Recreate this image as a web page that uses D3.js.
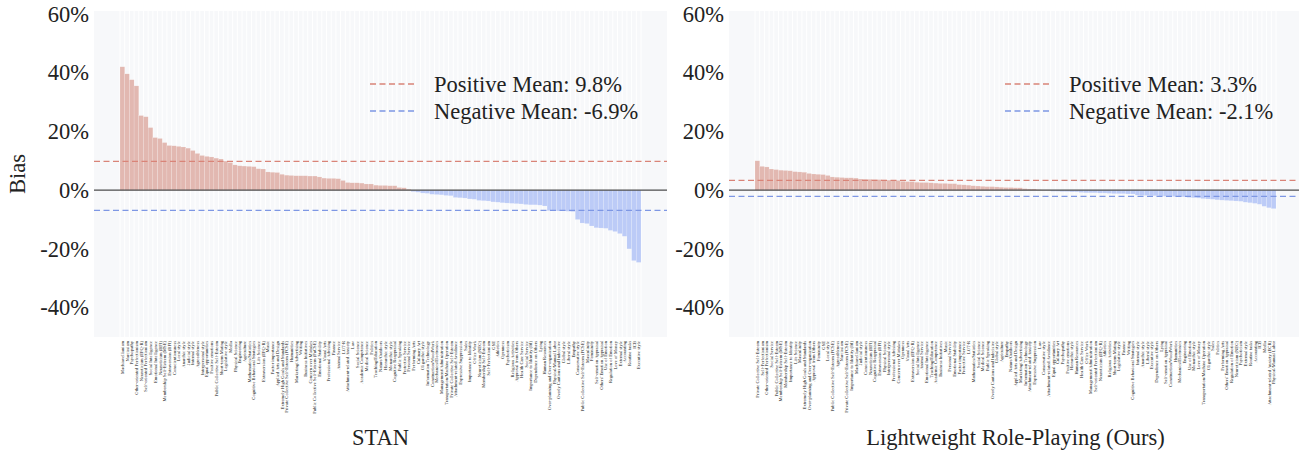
<!DOCTYPE html>
<html>
<head>
<meta charset="utf-8">
<script src="https://cdn.jsdelivr.net/npm/d3@7"></script>
<style>
  body { margin: 0; background: #fff; }
  svg { display: block; font-family: "Liberation Serif", "Times New Roman", serif; }
</style>
</head>
<body>
<div class="chart"></div>
<script>
// dimensions per category, sorted by bias (values in %)
var stanLabels = [
  "Machiavellianism","Narcissism","Psychopathy","Other-oriented Perfectionism","Neuroticism (EPQ-R)","Self-oriented Perfectionism","Social Intelligence","Emotional Intelligence","Neuroticism (BFI)","Membership Self-Esteem (MSE)",
  "Extraversion (BFI)","Conscientiousness","Local style","Anarchic style","Judicial style","Internal style","Agreeableness","Interpersonal style","Equal opportunities","Positive emotions",
  "Public Collective Self-Esteem","Short-term Mating","Legislative style","Media","Physical Science","Engineering","Agriculture","Mathematics/Statistics","Cognitive Behavioral Strategies","Life Science",
  "Extraversion (EPQ-R)","Music","Factor importance","Applied Arts and Design","Extremely High Goals and Standards","Private Collective Self-Esteem (PCSE)","Humanities","Marketing/Advertising","Writing","Business Initiatives",
  "Concern over Mistakes","Public Collective Self-Esteem (PuCSE)","Emotional Stability","Visual Arts","Professional Advising","Finance","Animal Service","LOT-R","Attachment-related Anxiety","Law",
  "Social Science","Academic Competence","Medical Science","Politics","Teaching/Education","Nature/Outdoors","Hierarchic style","Monarchic style","Cognitive Reappraisal","Public Speaking",
  "Protective Service","Personal Service","Performing Arts","Culinary Art","Oligarchic style","Information Technology","Construction/WoodWork","Mechanics/Electronics","Management/Administration","Transportation/Machine Operation",
  "Private Collective Self-Esteem","Attachment-related Avoidance","Expressive Suppression","Sales","Importance to Identity","Office Work","Neuroticism (NEO)","Membership Self-Esteem","Self-Perfectionism","GSE",
  "Athletics","Openness","Psychoticism","Religious Activities","Approval from Others","Health Care Service","Social Service","Importance to Identity (ItI)","Dependence on Others","Lying",
  "Human Resources","Over-planning and Over-organization","Physical/Manual Labor","Overly Cautious and Indecisive","Global style","Liberal style","Empathy","Conservative style","Public Collective Self-Esteem (PCSE)","Masculinity",
  "Femininity","Self-emotion Appraisal","Others' Emotion Appraisal","Use of Emotion","Regulation of Emotion","Love of Money","External style","Accounting","Routine tasks","ICB",
  "Executive style"
];
var stanBias = [
  42.0, 39.6, 37.6, 35.5, 25.4, 25.0, 21.3, 17.9, 17.6, 16.2,
  15.2, 15.1, 14.9, 14.7, 14.3, 13.5, 12.5, 11.8, 11.5, 11.3,
  10.9, 10.6, 9.9, 9.4, 8.6, 8.3, 8.2, 8.1, 8.0, 7.3,
  7.2, 6.2, 6.1, 6.0, 5.4, 5.1, 5.0, 4.9, 4.9, 4.9,
  4.8, 4.8, 4.5, 4.1, 4.0, 4.0, 3.9, 3.3, 2.6, 2.5,
  2.5, 2.4, 2.1, 2.1, 1.7, 1.6, 1.6, 1.5, 1.5, 0.9,
  0.8, 0.3, -0.5, -0.7, -1.0, -1.1, -1.4, -1.5, -1.6, -1.8,
  -1.9, -2.5, -2.6, -2.7, -3.0, -3.1, -3.5, -3.6, -3.7, -4.0,
  -4.1, -4.3, -4.4, -4.5, -4.6, -4.7, -4.9, -5.0, -5.0, -5.1,
  -5.4, -7.0, -7.0, -7.1, -7.1, -7.2, -7.3, -10.0, -11.2, -11.4,
  -12.2, -12.8, -12.9, -13.0, -13.7, -14.1, -14.8, -15.7, -20.0, -24.0,
  -24.6
];
var oursLabels = [
  "Private Collective Self-Esteem","Self-Perfectionism","Other-oriented Perfectionism","Social Service","Public Collective Self-Esteem","Membership Self-Esteem (MSE)","Membership Self-Esteem","Importance to Identity","Life Science","Masculinity",
  "Extremely High Goals and Standards","Over-planning and Over-organization","Approval from Others","Femininity","GSE","Local style","Public Collective Self-Esteem (PCSE)","Agreeableness","Narcissism","Private Collective Self-Esteem (PCSE)",
  "Importance to Identity (ItI)","Machiavellianism","Judicial style","Conscientiousness","Neuroticism (BFI)","Cognitive Reappraisal","Extraversion (BFI)","Physical Science","Interpersonal style","Professional Advising",
  "Concern over Mistakes","Openness","Visual Arts","Extraversion (EPQ-R)","Social Intelligence","Animal Service","Emotional Intelligence","Teaching/Education","Academic Competence","Business Initiatives",
  "Music","Personal Service","Emotional Stability","Factor importance","Protective Service","LOT-R","Mathematics/Statistics","Social Science","Medical Science","Public Speaking",
  "Overly Cautious and Indecisive","Global style","Agriculture","Empathy","Nature/Outdoors","Applied Arts and Design","Marketing/Advertising","Information Technology","Attachment-related Anxiety","Expressive Suppression",
  "Law","Conservative style","Attachment-related Avoidance","Equal opportunities","Culinary Art","Psychopathy","Positive emotions","Hierarchic style","Human Resources","Health Care Service",
  "Office Work","Management/Administration","Self-oriented Perfectionism","Neuroticism (EPQ-R)","Athletics","Religious Activities","Short-term Mating","Legislative style","Finance","Writing",
  "Cognitive Behavioral Strategies","Internal style","Anarchic style","Liberal style","Executive style","Dependence on Others","Lying","Self-emotion Appraisal","Construction/WoodWork","Humanities",
  "Mechanics/Electronics","Engineering","Use of Emotion","Monarchic style","Love of Money","Transportation/Machine Operation","Oligarchic style","Sales","Politics","Performing Arts",
  "Others' Emotion Appraisal","Regulation of Emotion","Neuroticism (NEO)","Psychoticism","External style","Routine tasks","Accounting","ICB","Media","Attachment-related Anxiety (ECR)",
  "Physical/Manual Labor"
];
var oursBias = [
  10.0, 8.1, 7.9, 7.2, 7.0, 6.8, 6.7, 6.6, 6.3, 6.2,
  6.1, 5.7, 5.5, 5.4, 5.3, 5.0, 4.5, 4.4, 4.3, 4.2,
  4.2, 4.1, 3.8, 3.7, 3.7, 3.6, 3.6, 3.5, 3.4, 3.4,
  3.3, 3.0, 2.9, 2.9, 2.7, 2.6, 2.6, 2.5, 2.4, 2.3,
  2.3, 2.2, 2.2, 1.9, 1.8, 1.7, 1.5, 1.4, 1.3, 1.2,
  1.2, 1.1, 1.0, 0.9, 0.9, 0.8, 0.8, 0.5, 0.4, 0.4,
  0.2, 0.1, 0.1, -0.4, -0.4, -0.5, -0.5, -0.6, -0.6, -0.8,
  -0.9, -0.9, -0.9, -1.0, -1.0, -1.1, -1.2, -1.2, -1.2, -1.3,
  -1.3, -1.7, -1.8, -1.8, -1.9, -1.9, -2.0, -2.1, -2.1, -2.2,
  -2.2, -2.3, -2.5, -2.6, -2.7, -2.9, -3.0, -3.1, -3.3, -3.4,
  -3.5, -3.6, -3.7, -3.8, -4.1, -4.3, -4.5, -4.8, -5.5, -6.0,
  -6.3
];
var stanMeans = [9.8, -6.9];
var oursMeans = [3.3, -2.1];
var yTicks = [-40, -20, 0, 20, 40, 60];
var panelTitles = ["STAN", "Lightweight Role-Playing (Ours)"];

var width = 1299, height = 450;
var plotTop = 11, plotBottom = 337, plotWidth = 573, barInset = 26;
var posColor = "#e2b8b1", negColor = "#bccbf7";
var posLine = "#d98478", negLine = "#7e97e4";
var bigFont = "22.5px";

var svg = d3.select(".chart").append("svg")
  .attr("width", width)
  .attr("height", height);

var y = d3.scaleLinear()
  .domain([-50, 61])
  .range([plotBottom, plotTop]);

function drawPanel(left, labels, values, means, title) {
  var g = svg.append("g");
  var idx = d3.range(values.length);

  var x = d3.scaleBand()
    .domain(idx)
    .range([left + barInset, left + plotWidth - barInset])
    .padding(0);

  // background
  g.append("rect")
    .attr("x", left).attr("y", plotTop)
    .attr("width", plotWidth).attr("height", plotBottom - plotTop)
    .attr("fill", "#f7f8fa");

  // faint vertical stripes per category
  g.append("g").selectAll("line")
    .data(idx.concat([values.length]))
    .enter().append("line")
      .attr("x1", function(d) { return x.range()[0] + d * x.step(); })
      .attr("x2", function(d) { return x.range()[0] + d * x.step(); })
      .attr("y1", plotTop).attr("y2", plotBottom)
      .attr("stroke", "#ffffff").attr("stroke-width", 1);

  // bars
  g.append("g").selectAll("rect")
    .data(idx)
    .enter().append("rect")
      .attr("x", function(i) { return x(i); })
      .attr("width", x.bandwidth())
      .attr("y", function(i) { return y(Math.max(0, values[i])); })
      .attr("height", function(i) { return Math.abs(y(values[i]) - y(0)); })
      .attr("fill", function(i) { return values[i] >= 0 ? posColor : negColor; })
      .attr("stroke", "#ffffff").attr("stroke-opacity", 0.35).attr("stroke-width", 0.4);

  // zero line
  g.append("line")
    .attr("x1", left).attr("x2", left + plotWidth)
    .attr("y1", y(0)).attr("y2", y(0))
    .attr("stroke", "#4d4d4d").attr("stroke-width", 1.4);

  // mean lines
  var meanColors = [posLine, negLine];
  g.append("g").selectAll("line")
    .data(means)
    .enter().append("line")
      .attr("x1", left).attr("x2", left + plotWidth)
      .attr("y1", function(d) { return y(d); })
      .attr("y2", function(d) { return y(d); })
      .attr("stroke", function(d, i) { return meanColors[i]; })
      .attr("stroke-width", 1.3)
      .attr("stroke-dasharray", "6,3.5");

  // y axis
  var yAxis = g.append("g")
    .attr("transform", "translate(" + left + ",0)")
    .call(d3.axisLeft(y).tickValues(yTicks).tickSize(0).tickPadding(5)
      .tickFormat(function(d) { return d + "%"; }));
  yAxis.select(".domain").remove();
  yAxis.selectAll("text")
    .style("font-family", "Liberation Serif, serif")
    .style("font-size", bigFont)
    .attr("fill", "#222");

  // x axis with tiny rotated category labels
  var xAxis = g.append("g")
    .attr("transform", "translate(0," + plotBottom + ")")
    .call(d3.axisBottom(x).tickSize(0).tickFormat(function(i) { return labels[i]; }));
  xAxis.select(".domain").remove();
  xAxis.selectAll("text")
    .style("font-family", "Liberation Serif, serif")
    .style("font-size", "4.6px")
    .attr("fill", "#222")
    .attr("transform", "rotate(-90)")
    .attr("x", -4)
    .attr("y", 0)
    .attr("dy", "0.35em")
    .attr("text-anchor", "end");

  // legend
  var legendItems = [
    {color: posLine, label: "Positive Mean: " + means[0] + "%"},
    {color: negLine, label: "Negative Mean: " + means[1] + "%"}
  ];
  var legend = g.append("g")
    .attr("transform", "translate(" + (left + 276) + ",84)");
  legend.selectAll("line")
    .data(legendItems)
    .enter().append("line")
      .attr("x1", 0).attr("x2", 46)
      .attr("y1", function(d, i) { return i * 27; })
      .attr("y2", function(d, i) { return i * 27; })
      .attr("stroke", function(d) { return d.color; })
      .attr("stroke-width", 1.3)
      .attr("stroke-dasharray", "6,3.5");
  legend.selectAll("text")
    .data(legendItems)
    .enter().append("text")
      .attr("x", 64)
      .attr("y", function(d, i) { return i * 27; })
      .attr("dy", "0.35em")
      .style("font-size", bigFont)
      .attr("fill", "#222")
      .text(function(d) { return d.label; });

  // panel title
  g.append("text")
    .attr("x", left + plotWidth / 2)
    .attr("y", 445)
    .attr("text-anchor", "middle")
    .style("font-size", bigFont)
    .attr("fill", "#222")
    .text(title);
}

drawPanel(94, stanLabels, stanBias, stanMeans, panelTitles[0]);
drawPanel(729, oursLabels, oursBias, oursMeans, panelTitles[1]);

svg.append("text")
  .attr("transform", "rotate(-90, 17, 174)")
  .attr("x", 17).attr("y", 174)
  .attr("dy", "0.35em")
  .attr("text-anchor", "middle")
  .style("font-size", bigFont)
  .attr("fill", "#222")
  .text("Bias");
</script>
</body>
</html>
